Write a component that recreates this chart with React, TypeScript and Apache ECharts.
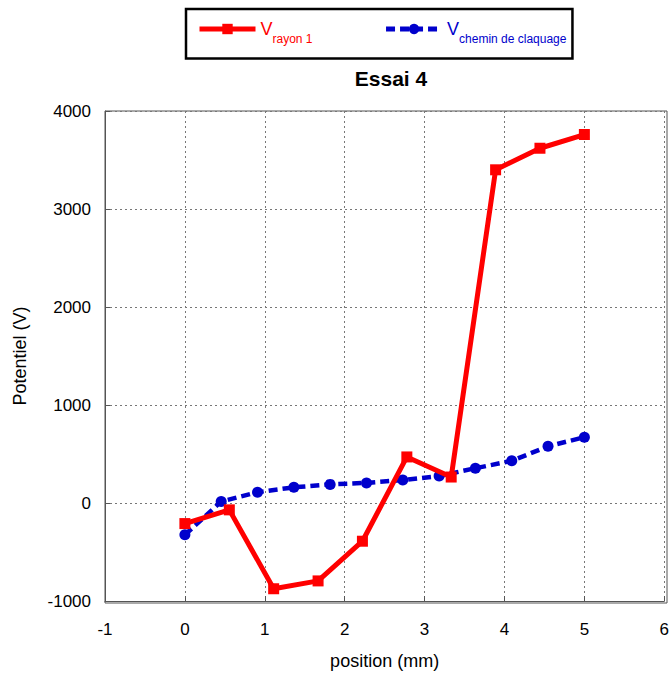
import React, { useEffect, useRef } from "react";
import * as echarts from "echarts";

const redX = [0, 0.556, 1.111, 1.667, 2.222, 2.778, 3.333, 3.889, 4.444, 5];
const redY = [-210, -70, -875, -795, -390, 470, 265, 3400, 3620, 3760];
const blueX = [0, 0.4545, 0.909, 1.364, 1.818, 2.273, 2.727, 3.182, 3.636, 4.091, 4.545, 5];
const blueY = [-325, 15, 110, 160, 190, 205, 235, 275, 355, 430, 578, 672];

const FONT = "'Liberation Sans', Arial, sans-serif";
const RED = "#ff0000";
const BLUE = "#0000cc";

export default function App() {
  const ref = useRef<HTMLDivElement>(null);
  useEffect(() => {
    if (!ref.current) return;
    const chart = echarts.init(ref.current, null, { renderer: "svg" });
    const rich = (color: string) => ({
      v: { fontSize: 18, color, fontFamily: FONT, verticalAlign: "middle" },
      s: { fontSize: 12, color, fontFamily: FONT, padding: [19, 0, 0, 0], verticalAlign: "bottom" },
    });
    chart.setOption({
      animation: false,
      textStyle: { fontFamily: FONT },
      title: {
        text: "Essai 4",
        left: 386,
        top: 63,
        textAlign: "center",
        textStyle: { fontSize: 21, fontWeight: "bold", color: "#000", fontFamily: FONT },
      },
      legend: {
        left: 186,
        top: 9,
        padding: [11, 6, 14, 11],
        itemGap: 71,
        itemWidth: 56,
        itemHeight: 13,
        borderColor: "#000",
        borderWidth: 2.5,
        data: [
          { name: "V_rayon", textStyle: { color: RED, rich: rich(RED) }, lineStyle: { width: 5 } },
          { name: "V_chemin", textStyle: { color: BLUE, rich: rich(BLUE) }, lineStyle: { width: 5 } },
        ],
        formatter: (name: string) =>
          name === "V_rayon" ? "{v|V}{s|rayon 1}" : "{v|V}{s|chemin de claquage}",
      },
      grid: { left: 105, right: 5, top: 111, bottom: 72, containLabel: false },
      xAxis: {
        type: "value",
        min: -1,
        max: 6,
        interval: 1,
        name: "position (mm)",
        nameLocation: "middle",
        nameGap: 51,
        nameTextStyle: { fontSize: 18, color: "#000", fontFamily: FONT },
        axisLine: { show: true, onZero: false, lineStyle: { color: "#555", width: 1 } },
        axisTick: { show: true, inside: true, length: 5, lineStyle: { color: "#555" } },
        axisLabel: { fontSize: 17, color: "#000", margin: 20, fontFamily: FONT },
        splitLine: { show: true, lineStyle: { color: "#777", type: [2, 3], width: 1 } },
      },
      yAxis: {
        type: "value",
        min: -1000,
        max: 4000,
        interval: 1000,
        name: "Potentiel (V)",
        nameLocation: "middle",
        nameGap: 76,
        nameTextStyle: { fontSize: 18, color: "#000", fontFamily: FONT },
        axisLine: { show: true, onZero: false, lineStyle: { color: "#555", width: 1 } },
        axisTick: { show: true, inside: true, length: 5, lineStyle: { color: "#555" } },
        axisLabel: {
          fontSize: 17,
          color: "#000",
          margin: 14,
          fontFamily: FONT,
          formatter: (v: number) => String(v),
        },
        splitLine: { show: true, lineStyle: { color: "#777", type: [2, 3], width: 1 } },
      },
      graphic: [
        {
          type: "rect",
          shape: { x: 105, y: 111, width: 562, height: 492 },
          style: { fill: "none", stroke: "#555", lineWidth: 1 },
          silent: true,
        },
      ],
      series: [
        {
          name: "V_chemin",
          type: "line",
          data: blueX.map((x, i) => [x, blueY[i]]),
          symbol: "circle",
          symbolSize: 11,
          itemStyle: { color: BLUE },
          lineStyle: { color: BLUE, width: 4.5, type: [9, 5] },
          z: 2,
        },
        {
          name: "V_rayon",
          type: "line",
          data: redX.map((x, i) => [x, redY[i]]),
          symbol: "rect",
          symbolSize: 11,
          itemStyle: { color: RED },
          lineStyle: { color: RED, width: 5 },
          z: 3,
        },
      ],
    });
    return () => chart.dispose();
  }, []);
  return <div ref={ref} style={{ width: 672, height: 675, position: "absolute", left: 0, top: 0 }} />;
}
